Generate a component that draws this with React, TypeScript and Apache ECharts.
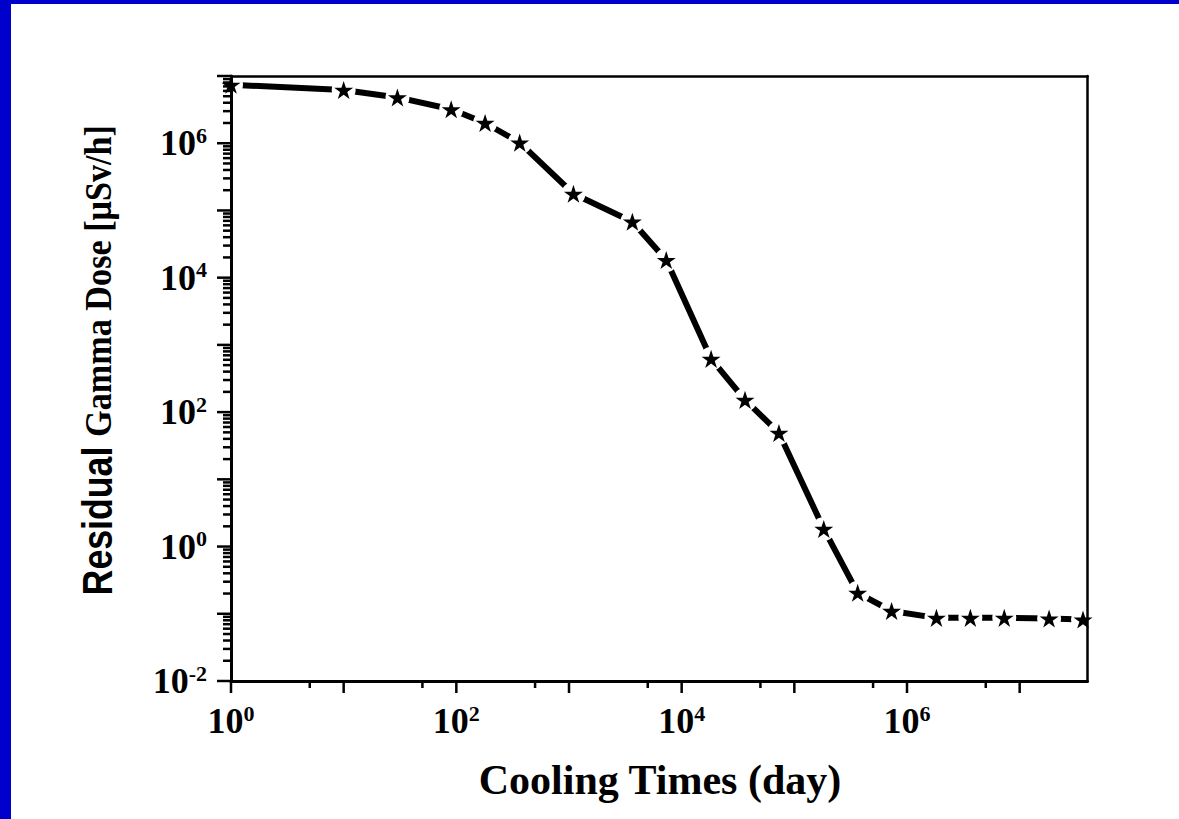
import React, { useEffect, useRef } from "react";
import * as echarts from "echarts";

const coolingDays = [1, 10, 30, 90, 180, 365, 1095, 3650, 7300, 18250, 36500, 73000, 182500, 365000, 730000, 1825000, 3650000, 7300000, 18250000, 36500000];
const gammaDose = [7.4e6, 6.2e6, 4.8e6, 3.2e6, 2.0e6, 1.02e6, 1.77e5, 6.8e4, 1.83e4, 620, 152, 49, 1.83, 0.205, 0.11, 0.087, 0.087, 0.087, 0.085, 0.082];

const xMin = 1;
const xMax = 4e7;
const yMin = 0.01;
const yMax = 1e7;
const xMajorExps = [0, 1, 2, 3, 4, 5, 6, 7];
const xMinorMultipliers = [5];
const yMajorExps = [-2, -1, 0, 1, 2, 3, 4, 5, 6, 7];
const yMinorMultipliers = [2, 3, 4, 5, 6, 7, 8, 9];

const xTitle = "Cooling Times (day)";
const yTitleA = "Residual";
const yTitleB = "Gamma Dose [\u03bcSv/h]";

const STAR = "path://M0,-100L22.45,-30.9L95.1,-30.9L36.33,11.8L58.78,80.9L0,38.2L-58.78,80.9L-36.33,11.8L-95.1,-30.9L-22.45,-30.9Z";

const serif = "Liberation Serif";
const sans = "Liberation Sans";

function powLabel(v: number): string {
  const l = Math.log10(v);
  const e = Math.round(l);
  if (Math.abs(l - e) > 1e-6 || e % 2 !== 0) return "";
  return `{b|10}{s|${e}}`;
}

const rich = {
  b: { fontFamily: serif, fontWeight: "bold", fontSize: 36, color: "#000", lineHeight: 38 },
  s: { fontFamily: serif, fontWeight: "bold", fontSize: 22, color: "#000", verticalAlign: "top", lineHeight: 22 },
};

export default function App() {
  const ref = useRef<HTMLDivElement>(null);
  useEffect(() => {
    const chart = echarts.init(ref.current!, undefined, { renderer: "svg" });
    const axisLine = { show: true, onZero: false, lineStyle: { color: "#000", width: 3 } };
    const pts = coolingDays.map((d, i) => [d, gammaDose[i]]);
    const labelBase = { fontFamily: serif, fontWeight: "bold", fontSize: 36, color: "#000", rich };
    chart.setOption({
      animation: false,
      backgroundColor: "#fff",
      grid: { left: 231, right: 91.5, top: 76, bottom: 138 },
      xAxis: [
        {
          type: "log", logBase: 10, min: xMin, max: xMax, interval: 1, position: "bottom", z: 10,
          axisLine, axisTick: { show: false }, splitLine: { show: false }, minorTick: { show: false },
          axisLabel: { ...labelBase, formatter: powLabel, margin: 21, showMaxLabel: false },
        },
        {
          type: "log", logBase: 10, min: xMin, max: xMax, interval: 1, position: "top", z: 10,
          axisLine: { show: true, onZero: false, lineStyle: { color: "#000", width: 2.5 } },
          axisTick: { show: false }, splitLine: { show: false }, axisLabel: { show: false },
        },
      ],
      yAxis: [
        {
          type: "log", logBase: 10, min: yMin, max: yMax, interval: 1, position: "left", z: 10,
          axisLine, axisTick: { show: false }, splitLine: { show: false },
          axisLabel: { ...labelBase, formatter: powLabel, margin: 24 },
        },
        {
          type: "log", logBase: 10, min: yMin, max: yMax, interval: 1, position: "right", z: 10,
          axisLine: { show: true, onZero: false, lineStyle: { color: "#000", width: 2.5 } },
          axisTick: { show: false }, splitLine: { show: false }, axisLabel: { show: false },
        },
      ],
      series: [
        {
          type: "line", data: pts, symbol: "none", z: 2,
          lineStyle: { color: "#000", width: 6, cap: "round", join: "round" },
        },
        {
          type: "scatter", data: pts, symbol: "circle", symbolSize: 24, z: 3, silent: true,
          itemStyle: { color: "#fff", opacity: 1 },
        },
        {
          type: "scatter", data: pts, symbol: STAR, symbolSize: 19, symbolKeepAspect: true, z: 4, silent: true,
          itemStyle: { color: "#000", opacity: 1 },
        },
      ],
    });

    const xp = (v: number) => chart.convertToPixel({ xAxisIndex: 0 }, v) as number;
    const yp = (v: number) => chart.convertToPixel({ yAxisIndex: 0 }, v) as number;
    const x0 = xp(xMin);
    const y0 = yp(yMin);
    const els: any[] = [];
    const tick = (x1: number, y1: number, x2: number, y2: number) =>
      els.push({ type: "line", z: 100, shape: { x1, y1, x2, y2 }, style: { stroke: "#000", lineWidth: 2.5 } });
    xMajorExps.forEach((e) => {
      const v = Math.pow(10, e);
      if (v > xMax) return;
      const px = xp(v);
      tick(px, y0, px, y0 + 12);
      xMinorMultipliers.forEach((m) => {
        const mv = m * v;
        if (mv < xMax) { const mx = xp(mv); tick(mx, y0, mx, y0 + 7); }
      });
    });
    yMajorExps.forEach((e) => {
      const v = Math.pow(10, e);
      const py = yp(v);
      tick(x0 - 14, py, x0, py);
      yMinorMultipliers.forEach((m) => {
        const mv = m * v;
        if (mv < yMax) { const my = yp(mv); tick(x0 - 8, my, x0, my); }
      });
    });
    els.push({
      type: "text", z: 100, x: 660, y: 780,
      style: { text: xTitle, font: `bold 42px "${serif}"`, fill: "#000", align: "center", verticalAlign: "middle" },
    });
    els.push({
      type: "text", z: 100, x: 97, y: 521, rotation: Math.PI / 2, scaleX: 0.85,
      style: { text: yTitleA, font: `bold 42px "${sans}"`, fill: "#000", align: "center", verticalAlign: "middle" },
    });
    els.push({
      type: "text", z: 100, x: 98, y: 281, rotation: Math.PI / 2, scaleX: 0.9,
      style: { text: yTitleB, font: `bold 38px "${serif}"`, fill: "#000", align: "center", verticalAlign: "middle" },
    });
    chart.setOption({ graphic: { elements: els } });
    return () => chart.dispose();
  }, []);

  return (
    <div style={{ position: "absolute", left: 0, top: 0, width: 1179, height: 819, background: "#fff" }}>
      <div ref={ref} style={{ position: "absolute", left: 0, top: 0, width: 1179, height: 819 }} />
      <div style={{ position: "absolute", left: 0, top: 0, width: 11, height: 819, background: "#0000CC" }} />
      <div style={{ position: "absolute", left: 0, top: 0, width: 1179, height: 4, background: "#0000CC" }} />
    </div>
  );
}
